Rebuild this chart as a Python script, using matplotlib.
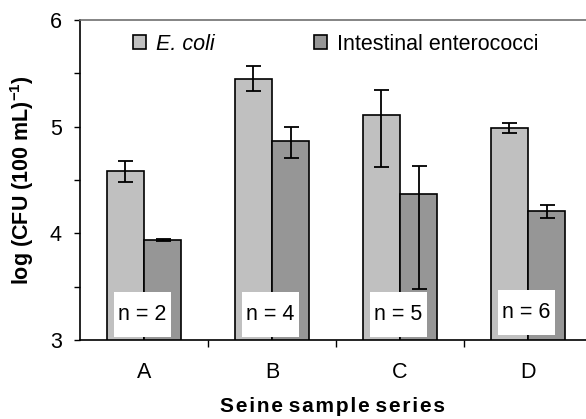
import matplotlib
matplotlib.use("Agg")
import matplotlib.pyplot as plt
from matplotlib.patches import Patch, Rectangle
import numpy as np

plt.rcParams['font.family'] = ['Liberation Sans', 'DejaVu Sans']
plt.rcParams['mathtext.fontset'] = 'custom'
plt.rcParams['mathtext.rm'] = 'Liberation Sans'
plt.rcParams['mathtext.bf'] = 'Liberation Sans:bold'

# Data
series = ["A", "B", "C", "D"]
n_samples = [2, 4, 5, 6]
ecoli = [4.58, 5.45, 5.11, 4.985]
ecoli_err_low = [0.10, 0.12, 0.49, 0.04]
ecoli_err_high = [0.10, 0.12, 0.23, 0.05]
entero = [3.935, 4.87, 4.37, 4.21]
entero_err_low = [0.01, 0.16, 0.89, 0.07]
entero_err_high = [0.01, 0.13, 0.26, 0.06]

W, H = 586, 419
fig = plt.figure(figsize=(W / 100, H / 100), dpi=100)
ax = fig.add_axes([80 / W, 1 - 340 / H, 506 / W, 320 / H])

x = np.arange(len(series))
bw = 0.29
err_kw = dict(ecolor="black", elinewidth=1.3, capsize=5.4, capthick=1.3)
ax.bar(x - bw / 2, ecoli, bw, color="#C0C0C0", edgecolor="black",
       linewidth=1.2, yerr=[ecoli_err_low, ecoli_err_high], error_kw=err_kw,
       zorder=2)
ax.bar(x + bw / 2, entero, bw, color="#969696", edgecolor="black",
       linewidth=1.2, yerr=[entero_err_low, entero_err_high], error_kw=err_kw,
       zorder=2)

ax.set_ylim(3, 6)
ax.set_xlim(-0.5, -0.5 + 506 / 128)
ax.set_yticks([3, 4, 5, 6])
ax.set_yticks([3.5, 4.5, 5.5], minor=True)
ax.tick_params(axis="y", which="both", direction="out", length=4, width=1,
               labelsize=15.5, pad=9)
ax.set_xticks(x)
ax.set_xticklabels(series)
ax.set_xticks(np.arange(0.5, 3.5, 1.0), minor=True)
ax.tick_params(axis="x", which="major", length=0, labelsize=15.5, pad=16)
ax.tick_params(axis="x", which="minor", direction="out", length=5, width=1)

for s in ["left", "bottom"]:
    ax.spines[s].set_linewidth(1.2)
ax.spines["right"].set_visible(False)
ax.spines["top"].set_color("#707070")
ax.spines["top"].set_linewidth(1.2)

ax.set_ylabel("log (CFU (100 mL)$^{\\mathbf{-1}}$)", fontsize=15.5,
              fontweight="bold", labelpad=10)

# widely tracked bold axis title
xlabel = " ".join("\u200a".join(word) for word in "Seine sample series".split())
ax.set_xlabel(xlabel, fontsize=15, fontweight="bold", labelpad=10)

# sample counts in white boxes
box_bottom = [3.03, 3.03, 3.03, 3.047]
box_h = 0.418
box_w = 0.445
for xi, n, yb in zip(x, n_samples, box_bottom):
    cx = xi - 0.012
    ax.add_patch(Rectangle((cx - box_w / 2, yb), box_w, box_h, facecolor="white",
                           edgecolor="none", zorder=4))
    ax.text(cx, yb + box_h / 2, f"n = {n}", ha="center", va="center",
            fontsize=15.5, zorder=5)

handles = [Patch(facecolor="#C0C0C0", edgecolor="black", linewidth=1.2),
           Patch(facecolor="#969696", edgecolor="black", linewidth=1.2)]
leg = ax.legend(handles, ["E. coli", "Intestinal enterococci"], ncol=2,
                frameon=False, fontsize=15.5, loc="upper left",
                bbox_to_anchor=((133 - 80) / 506, 1 - 14 / 320), borderaxespad=0,
                borderpad=0, handlelength=0.62, handleheight=0.62,
                handletextpad=0.45, columnspacing=4.6)
leg.get_texts()[0].set_style("italic")

fig.savefig("out.png", dpi=100)
